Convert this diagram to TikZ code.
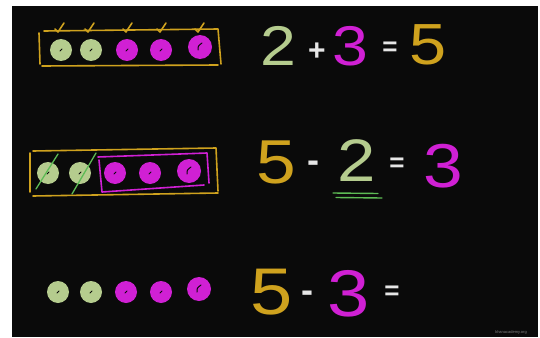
\documentclass[tikz,border=0pt]{standalone}
\usepackage{fontspec}
\setmainfont{Liberation Sans}

\definecolor{board}{HTML}{0A0A0A}
\definecolor{chalkgreen}{HTML}{B5CC8E}
\definecolor{chalkpink}{HTML}{D020D4}
\definecolor{chalkgold}{HTML}{CFA21E}
\definecolor{chalkline}{HTML}{5DBB55}
\definecolor{chalkwhite}{HTML}{E6E6E6}

\begin{document}
\begin{tikzpicture}[line join=round, line cap=round, x=1pt, y=-1pt,
    digit/.style={inner sep=0pt, xscale=1.15, font=\fontsize{#1}{#1}\selectfont},
    sign/.style={inner sep=0pt, anchor=base, text=chalkwhite, font=\bfseries\fontsize{#1}{#1}\selectfont},
    frame/.style={line width=1.6pt}]
    % Parameters
    \def\r{11}           % radius of a counter
    \def\rowA{50}        % rows of counters
    \def\rowB{173}
    \def\rowC{292}

    % board
    \fill[white] (0,0) rectangle (540,337);
    \fill[board] (12,6) rectangle (538,337);

    % first row: 2 + 3 = 5
    \foreach \x/\c in {61/chalkgreen, 91/chalkgreen, 127/chalkpink, 161/chalkpink} {
      \fill[\c] (\x,\rowA) circle (\r);
      \draw[board, line width=1pt] (\x-1,\rowA+1) -- (\x+1,\rowA-1);
    }
    \fill[chalkpink] (200,\rowA-3) circle (12);
    \draw[board, line width=1pt] (198,\rowA) .. controls (198,\rowA-4) .. (202,\rowA-7);

    % box with ticks
    \draw[chalkgold, frame] (44,31) -- (218,29) -- (221,64) (218,65) -- (42,66) (40,64) -- (39,33);
    \foreach \x in {60,90,128,162,200} {
      \draw[chalkgold, line width=1.6pt] (\x-5,29) -- (\x-2,32) -- (\x+4,23);
    }

    \node[digit=56, text=chalkgreen] (twoA) at (278,46) {2};
    \node[sign=30] (plusA) at (317,60.5) {+};
    \node[digit=56, text=chalkpink] (threeA) at (350,46) {3};
    \node[sign=26] (eqA) at (390,56) {=};
    \node[digit=58, text=chalkgold] (fiveA) at (428,45) {5};

    % second row: 5 - 2 = 3
    \foreach \x/\c in {48/chalkgreen, 80/chalkgreen, 115/chalkpink, 150/chalkpink} {
      \fill[\c] (\x,\rowB) circle (\r);
      \draw[board, line width=1pt] (\x-1,\rowB+1) -- (\x+1,\rowB-1);
    }
    \fill[chalkpink] (189,\rowB-2) circle (12);
    \draw[board, line width=1pt] (187,\rowB+1) .. controls (187,\rowB-3) .. (191,\rowB-6);

    % cross out the two, box the three
    \draw[chalkline, line width=1.3pt] (36,189) -- (58,154);
    \draw[chalkline, line width=1.3pt] (72,194) -- (96,153);
    \draw[chalkpink, frame] (98,157) -- (207,153) -- (209,183) (204,185) -- (102,192) -- (99,160);
    \draw[chalkgold, frame] (33,151) -- (216,148) -- (218,191) (218,193) -- (33,196) (30,192) -- (30,153);

    \node[digit=62, text=chalkgold] (fiveB) at (276,162) {5};
    \node[sign=36] (minusB) at (313,172.5) {-};
    \node[digit=60, text=chalkgreen] (twoB) at (357,161) {2};
    \draw[chalkline, line width=1.4pt] (333,193) -- (378,193.5);
    \draw[chalkline, line width=1.4pt] (336,197.5) -- (382,198);
    \node[sign=26] (eqB) at (397,171) {=};
    \node[digit=62, text=chalkpink] (threeB) at (443,166) {3};

    % third row: 5 - 3 =
    \foreach \x/\c in {58/chalkgreen, 91/chalkgreen, 126/chalkpink, 161/chalkpink} {
      \fill[\c] (\x,\rowC) circle (\r);
      \draw[board, line width=1pt] (\x-1,\rowC+1) -- (\x+1,\rowC-1);
    }
    \fill[chalkpink] (199,\rowC-3) circle (12);
    \draw[board, line width=1pt] (197,\rowC) .. controls (197,\rowC-4) .. (201,\rowC-7);

    \node[digit=66, text=chalkgold] (fiveC) at (272,292) {5};
    \node[sign=36] (minusC) at (307,302.5) {-};
    \node[digit=66, text=chalkpink] (threeC) at (349,294) {3};
    \node[sign=26] (eqC) at (392,299) {=};

    % watermark
    \node[inner sep=0pt, text=gray, font=\fontsize{4}{4}\selectfont] (mark) at (511,332) {khanacademy.org};
  \end{tikzpicture}
\end{document}
